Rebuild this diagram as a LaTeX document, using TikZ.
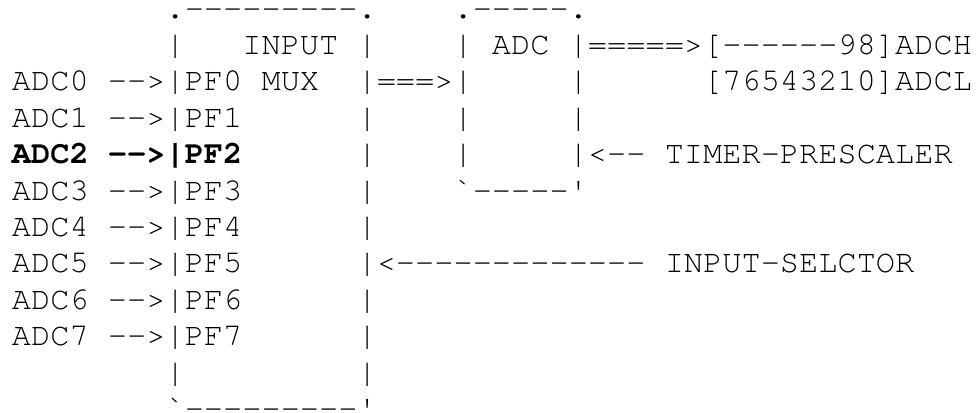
\documentclass[tikz,border=0pt]{standalone}
\usepackage{fontspec}
\setmonofont{texgyrecursor}[Extension=.otf,UprightFont=*-regular,BoldFont=*-bold]
% grave accent and straight apostrophe used for the lower box corners
\newcommand{\lcorner}{\symbol{96}}
\newcommand{\rcorner}{\symbol{39}}
\begin{document}
\begin{tikzpicture}[x=0.75pt,y=-0.75pt,
  asciirow/.style={anchor=base west,inner sep=0pt,outer sep=0pt,
    font=\ttfamily\fontsize{24}{27}\selectfont}]
\useasboundingbox[fill=white] (0,0) rectangle (978,412);
\def\rowpitch{36.4}
\def\rowtop{18}
\node[asciirow] (row1)  at (12,\rowtop+0*\rowpitch) {~~~~~~~~.---------.~~~~.-----.};
\node[asciirow] (row2)  at (12,\rowtop+1*\rowpitch) {~~~~~~~~|~~~INPUT~|~~~~|~ADC~|=====>[------98]ADCH};
\node[asciirow] (row3)  at (12,\rowtop+2*\rowpitch) {ADC0~-->|PF0~MUX~~|===>|~~~~~|~~~~~~[76543210]ADCL};
\node[asciirow] (row4)  at (12,\rowtop+3*\rowpitch) {ADC1~-->|PF1~~~~~~|~~~~|~~~~~|};
\node[asciirow] (row5)  at (12,\rowtop+4*\rowpitch) {{\bfseries ADC2~-->|PF2}~~~~~~|~~~~|~~~~~|<--~TIMER-PRESCALER};
\node[asciirow] (row6)  at (12,\rowtop+5*\rowpitch) {ADC3~-->|PF3~~~~~~|~~~~\lcorner-----\rcorner};
\node[asciirow] (row7)  at (12,\rowtop+6*\rowpitch) {ADC4~-->|PF4~~~~~~|};
\node[asciirow] (row8)  at (12,\rowtop+7*\rowpitch) {ADC5~-->|PF5~~~~~~|<-------------~INPUT-SELCTOR};
\node[asciirow] (row9)  at (12,\rowtop+8*\rowpitch) {ADC6~-->|PF6~~~~~~|};
\node[asciirow] (row10) at (12,\rowtop+9*\rowpitch) {ADC7~-->|PF7~~~~~~|};
\node[asciirow] (row11) at (12,\rowtop+10*\rowpitch) {~~~~~~~~|~~~~~~~~~|};
\node[asciirow] (row12) at (12,\rowtop+11*\rowpitch) {~~~~~~~~\lcorner---------\rcorner};
\end{tikzpicture}
\end{document}
